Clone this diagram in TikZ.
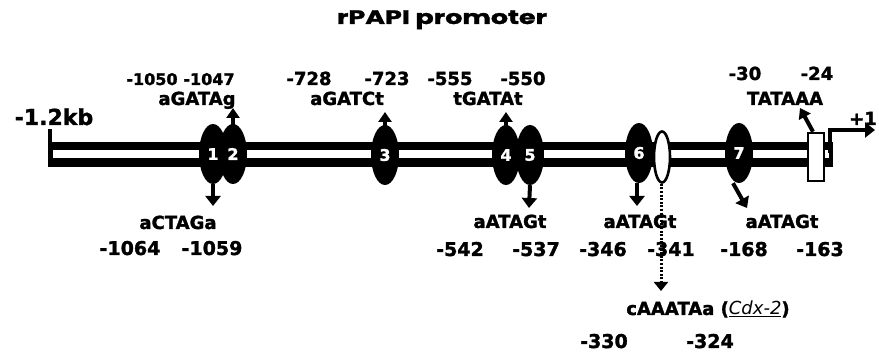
\documentclass[tikz,border=0pt]{standalone}
\usepackage{fontspec}
\setmainfont{DejaVu Sans}[BoldFeatures={FakeBold=1.6}]
\newfontfamily\titlefont{Poppins}[BoldFeatures={FakeBold=1.2}]
\usetikzlibrary{arrows.meta,shapes.geometric}
\begin{document}
\begin{tikzpicture}[x=1pt,y=-1pt,
  site/.style={ellipse, fill=black, minimum width=28pt, minimum height=60pt,
    inner sep=0pt, text=white, font=\bfseries\fontsize{16}{16}\selectfont},
  cdxsite/.style={ellipse, draw=black, line width=2.6pt, fill=white,
    minimum width=16pt, minimum height=51pt, inner sep=0pt},
  tatabox/.style={rectangle, draw=black, line width=2.6pt, fill=white,
    minimum width=16pt, minimum height=48pt, inner sep=0pt},
  ptr/.style={line width=4pt, -{Triangle[width=15pt,length=10pt]}},
  shortptr/.style={line width=4pt, -{Triangle[width=13pt,length=10pt]}},
  seq/.style={anchor=base, inner sep=0pt, font=\bfseries\fontsize{18}{18}\selectfont},
  topnum/.style={seq},
  smallnum/.style={anchor=base, inner sep=0pt, font=\bfseries\fontsize{16}{16}\selectfont},
  lownum/.style={anchor=base, inner sep=0pt, font=\bfseries\fontsize{19}{19}\selectfont},
]
\useasboundingbox (0,0) rectangle (879,358);

% title
\node[anchor=base, inner sep=0pt] (title) at (442,24)
  {\scalebox{1.38}[1]{\titlefont\bfseries\fontsize{19.5}{19.5}\selectfont rPAPI promoter}};

% promoter bar: two black strands with a white core
\fill[black] (48,142) rectangle (833,167);
\fill[white] (53,150) rectangle (829,158);
\draw[line width=4pt] (50,129) -- (50,167);
\node[anchor=base, inner sep=0pt, font=\bfseries\fontsize{22}{22}\selectfont] (start) at (54,125) {-1.2kb};

% GATA sites
\node[site] (s1) at (213,154) {1};
\node[site] (s2) at (233,154) {2};
\node[site] (s3) at (385,155) {3};
\node[site] (s4) at (506,155) {4};
\node[site] (s5) at (530,155) {5};
\node[site] (s6) at (639,153) {6};
\node[cdxsite] (cdx) at (662,157) {};
\node[site] (s7) at (739,153) {7};

% TATA box and transcription start
\node[tatabox] (tata) at (816,157) {};
\coordinate (tss) at (830,153);
\coordinate (tssup) at (830,130);
\coordinate (tssend) at (875,130);
\draw[line width=4pt] (tss) -- ([yshift=-2pt]tssup);
\draw[ptr] ([xshift=-2pt]tssup) -- (tssend);
\node[anchor=base west, inner sep=0pt, font=\bfseries\fontsize{18}{18}\selectfont] (plusone) at (849,125) {+1};

% orientation arrows
\coordinate (t2) at (233,108);
\coordinate (t1) at (213,206);
\coordinate (t3) at (385,112);
\coordinate (t4) at (506,112);
\coordinate (t5) at (529,208);
\coordinate (t6) at (637,206);
\coordinate (t7) at (747,208);
\coordinate (ttata) at (800,108);
\coordinate (tcdx) at (661,291);
\draw[shortptr] ([yshift=-6pt]s2.north) -- (t2);
\draw[ptr] (s1.south) -- (t1);
\draw[shortptr] ([yshift=-6pt]s3.north) -- (t3);
\draw[shortptr] ([yshift=-6pt]s4.north) -- (t4);
\draw[ptr] (s5.south) -- (t5);
\draw[ptr] ([xshift=-2pt]s6.south) -- (t6);
\draw[ptr] ([xshift=-6pt]s7.south) -- (t7);
\draw[shortptr] ([xshift=-3pt]tata.north) -- (ttata);
\draw[line width=3pt, dash pattern=on 2pt off 1.6pt, -{Triangle[width=14pt,length=9pt]}]
  ([xshift=-1pt]cdx.south) -- (tcdx);

% upper labels
\node[smallnum] (n1050) at (152,85) {-1050};
\node[smallnum] (n1047) at (209,85) {-1047};
\node[topnum] (n728) at (309,85) {-728};
\node[topnum] (n723) at (387,85) {-723};
\node[topnum] (n555) at (450,85) {-555};
\node[topnum] (n550) at (523,85) {-550};
\node[topnum] (n30) at (745,80) {-30};
\node[topnum] (n24) at (817,80) {-24};
\node[seq] (q2) at (197,105) {aGATAg};
\node[seq] (q3) at (347,105) {aGATCt};
\node[seq] (q4) at (488,105) {tGATAt};
\node[seq] (qtata) at (785,105) {TATAAA};

% lower labels
\node[seq] (q1) at (178,229) {aCTAGa};
\node[seq] (q5) at (510,228) {aATAGt};
\node[seq] (q6) at (640,228) {aATAGt};
\node[seq] (q7) at (782,228) {aATAGt};
\node[lownum] (n1064) at (130,255) {-1064};
\node[lownum] (n1059) at (212,255) {-1059};
\node[lownum] (n542) at (460,256) {-542};
\node[lownum] (n537) at (536,256) {-537};
\node[lownum] (n346) at (603,256) {-346};
\node[lownum] (n341) at (671,256) {-341};
\node[lownum] (n168) at (744,256) {-168};
\node[lownum] (n163) at (820,256) {-163};

% Cdx-2 site
\node[seq] (qcdx) at (708,315) {cAAATAa (\underline{\mdseries\itshape Cdx-2})};
\node[lownum] (n330) at (604,348) {-330};
\node[lownum] (n324) at (710,348) {-324};
\end{tikzpicture}
\end{document}
